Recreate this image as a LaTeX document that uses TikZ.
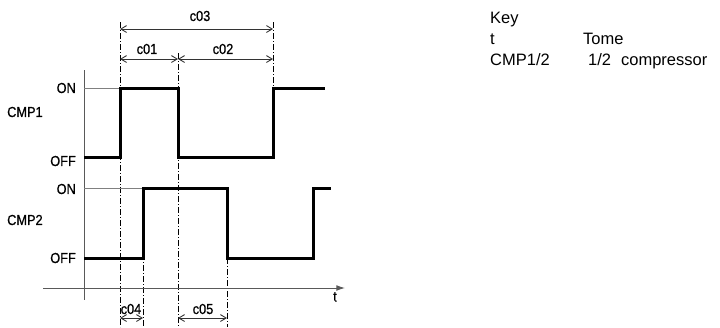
\documentclass[tikz,border=0pt]{standalone}
\usepackage{fontspec}
\setmainfont{Liberation Sans}
\newfontfamily\narrowfont[FakeStretch=0.88,FakeBold=0.6]{Liberation Sans}
\usepackage{tikz}
\usetikzlibrary{arrows.meta}
\tikzset{
  sig/.style={
    font=\narrowfont\fontsize{14.5}{16}\selectfont,
    inner sep=0pt
  },
  keytext/.style={
    font=\fontsize{16.5}{20}\selectfont,
    inner sep=0pt,
    anchor=base west
  },
  wave/.style={line width=3pt, line join=miter},
  guide/.style={dash pattern=on 6pt off 2pt on 1pt off 2pt, line width=0.7pt},
  level/.style={gray, line width=0.8pt},
  axisline/.style={gray!70!black, line width=0.9pt},
  dim/.style={{Straight Barb[length=2mm,width=2.4mm]}-{Straight Barb[length=2mm,width=2.4mm]},
    gray!40!black, line width=0.9pt}
}

\begin{document}
\begin{tikzpicture}[x=1pt, y=-1pt]
  \useasboundingbox (0,0) rectangle (720,327);

  % time marks
  \coordinate (a) at (120,0);
  \coordinate (b) at (178,0);
  \coordinate (c) at (273,0);
  \coordinate (d) at (143,0);
  \coordinate (e) at (227,0);

  % guide lines
  \draw[guide] (120,22) -- (120,327);
  \draw[guide] (178,53) -- (178,327);
  \draw[guide] (273,22) -- (273,88);
  \draw[guide] (143,188) -- (143,327);
  \draw[guide] (227,258) -- (227,327);

  % axes
  \coordinate (ytop) at (84,70);
  \coordinate (ybot) at (84,300);
  \coordinate (tstart) at (43,288);
  \coordinate (tend) at (345,288);
  \draw[axisline] (ytop) -- (ybot);
  \draw[axisline, -{Latex[length=3mm,width=2mm]}] (tstart) -- (tend);
  \node[sig, anchor=north] (tlab) at (335,292) {t};

  % levels
  \draw[level] (84,88) -- (120,88);
  \draw[level] (84,188) -- (143,188);

  % waveforms
  \draw[wave] (84,157) -- (120,157) -- (120,88) -- (178,88) -- (178,157)
    -- (273,157) -- (273,88) -- (325,88);
  \draw[wave] (84,258) -- (143,258) -- (143,188) -- (227,188) -- (227,258)
    -- (313,258) -- (313,188) -- (331,188);

  % signal names
  \node[sig, anchor=west] (cmp1) at (7,112) {CMP1};
  \node[sig, anchor=west] (cmp2) at (7,220) {CMP2};
  \node[sig, anchor=east] (on1) at (76,88) {ON};
  \node[sig, anchor=east] (off1) at (76,161) {OFF};
  \node[sig, anchor=east] (on2) at (76,189) {ON};
  \node[sig, anchor=east] (off2) at (76,258) {OFF};

  % times
  \draw[dim] (a |- 0,29) -- (c |- 0,29);
  \draw[dim] (a |- 0,59) -- (b |- 0,59);
  \draw[dim] (b |- 0,59) -- (c |- 0,59);
  \draw[dim] (a |- 0,318) -- (d |- 0,318);
  \draw[dim] (b |- 0,318) -- (e |- 0,318);
  \node[sig] (c03) at (200,16) {c03};
  \node[sig] (c01) at (147,49) {c01};
  \node[sig] (c02) at (223,49) {c02};
  \node[sig] (c04) at (131,309) {c04};
  \node[sig] (c05) at (203,309) {c05};

  % key
  \node[keytext] (key) at (490,23) {Key};
  \node[keytext] (keyt) at (490,44) {t};
  \node[keytext] (keycmp) at (490,65) {CMP1/2};
  \node[keytext] (tome) at (583,44) {Tome};
  \node[keytext] (comp) at (588,65) {1/2\hspace{10pt}compressor};
\end{tikzpicture}
\end{document}
